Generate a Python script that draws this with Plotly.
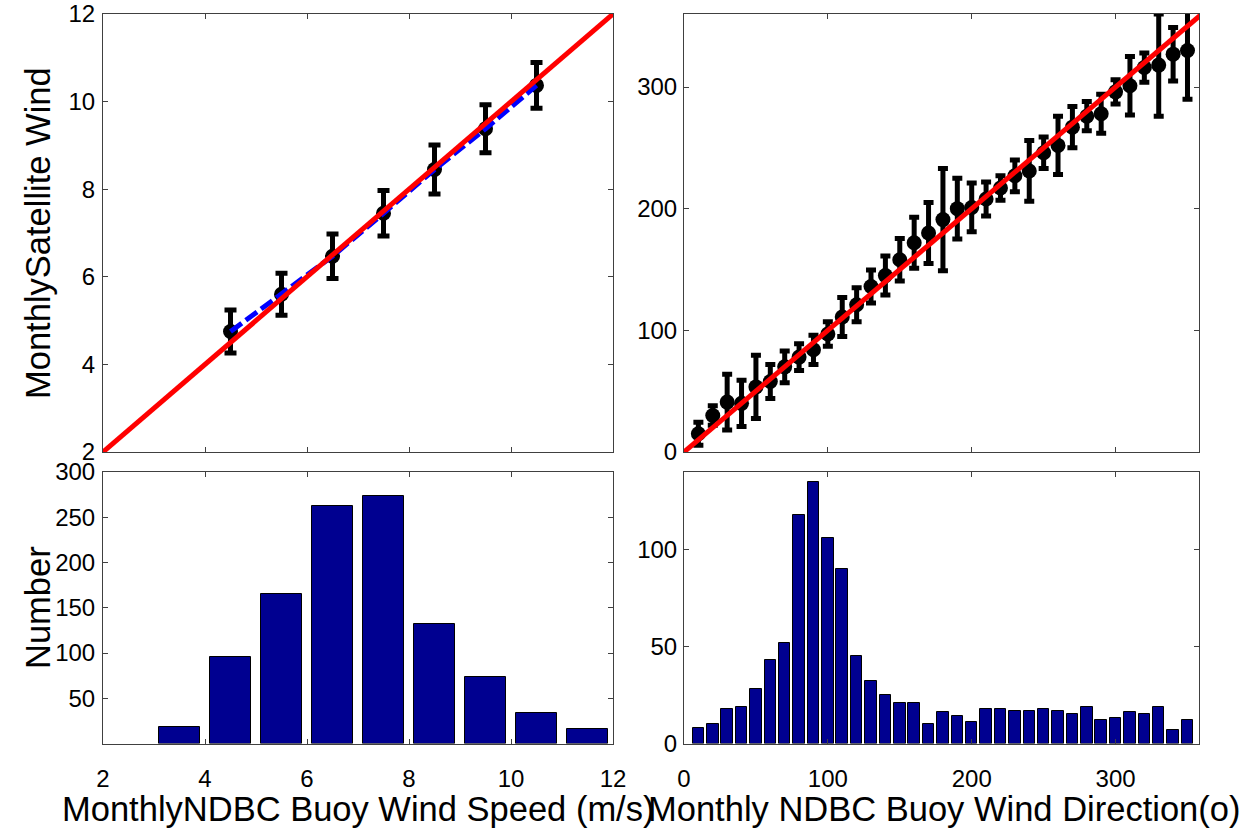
import plotly.graph_objects as go

# ---------------- data ----------------
speed_bins = [4.5, 5.5, 6.5, 7.5, 8.5, 9.5, 10.5]
speed_sat = [4.75, 5.6, 6.47, 7.45, 8.45, 9.38, 10.37]
speed_err = [0.49, 0.48, 0.51, 0.52, 0.56, 0.55, 0.52]
speed_ref = [2, 12]

dir_bins = [10, 20, 30, 40, 50, 60, 70, 80, 90, 100, 110, 120, 130, 140, 150, 160, 170, 180,
            190, 200, 210, 220, 230, 240, 250, 260, 270, 280, 290, 300, 310, 320, 330, 340, 350]
dir_sat = [15, 30, 41, 40, 53.5, 58, 70, 78, 84, 97, 111, 121, 136, 145, 158, 172, 180, 191,
           200, 201, 208, 217, 227, 231, 246, 252, 267, 276, 278, 296, 301, 316, 318, 327, 330]
dir_err = [9.5, 8, 23, 19, 26, 14, 13, 11, 12, 10, 16, 14, 13.5, 16, 17.5, 21, 25, 42,
           25, 20, 14, 10, 13, 25, 13, 24, 17, 12, 16, 10, 24, 12, 42, 22, 40]
dir_ref = [0, 360]

speed_hist_centers = [3.5, 4.5, 5.5, 6.5, 7.5, 8.5, 9.5, 10.5, 11.5]
speed_hist_counts = [18, 96, 165, 262, 273, 132, 74, 34, 16]

dir_hist_centers = dir_bins
dir_hist_counts = [8, 10, 18, 19, 28, 43, 52, 118, 135, 106, 90, 45, 32, 25, 21, 21, 10, 16,
                   14, 11, 18, 18, 17, 17, 18, 17, 15, 19, 12, 13, 16, 15, 19, 7, 12]

speed_ticks = [2, 4, 6, 8, 10, 12]
dir_ticks = [0, 100, 200, 300]
speed_count_ticks = [50, 100, 150, 200, 250, 300]
dir_count_ticks = [0, 50, 100]

# ---------------- figure ----------------
W, H = 1258, 831
BAR = "#000090"

fig = go.Figure()

# top-left
fig.add_trace(go.Scatter(x=speed_bins, y=speed_sat, mode="markers",
                         marker=dict(color="black", size=15),
                         error_y=dict(type="data", array=speed_err, color="black",
                                      thickness=5, width=6),
                         xaxis="x", yaxis="y"))
fig.add_trace(go.Scatter(x=speed_bins, y=speed_sat, mode="lines",
                         line=dict(color="#0000FF", width=5, dash="14px,5px"),
                         xaxis="x", yaxis="y"))
fig.add_trace(go.Scatter(x=speed_ref, y=speed_ref, mode="lines",
                         line=dict(color="#FF0000", width=5),
                         xaxis="x", yaxis="y"))

# top-right
fig.add_trace(go.Scatter(x=dir_bins, y=dir_sat, mode="markers",
                         marker=dict(color="black", size=15),
                         error_y=dict(type="data", array=dir_err, color="black",
                                      thickness=5, width=5),
                         xaxis="x2", yaxis="y2"))
fig.add_trace(go.Scatter(x=dir_ref, y=dir_ref, mode="lines",
                         line=dict(color="#FF0000", width=5),
                         xaxis="x2", yaxis="y2"))

# bottom-left
fig.add_trace(go.Bar(x=speed_hist_centers, y=speed_hist_counts, width=0.8,
                     marker=dict(color=BAR, line=dict(color="black", width=1)),
                     xaxis="x3", yaxis="y3"))
# bottom-right
fig.add_trace(go.Bar(x=dir_hist_centers, y=dir_hist_counts, width=8,
                     marker=dict(color=BAR, line=dict(color="black", width=1)),
                     xaxis="x4", yaxis="y4"))


def px_x(a, b):
    return [a / W, b / W]


def px_y(top, bottom):
    return [1 - bottom / H, 1 - top / H]


dx1 = px_x(103, 613)
dx2 = px_x(684, 1199)
dyt = px_y(14, 452)
dyb = px_y(472, 743.5)

ax = dict(showline=True, linecolor="#404040", linewidth=1, mirror="ticks",
          ticks="inside", ticklen=5, tickcolor="#404040", showgrid=False,
          zeroline=False, automargin=False, tickfont=dict(size=24, color="black"))

fig.update_layout(
    template="none",
    width=W, height=H,
    margin=dict(l=0, r=0, t=0, b=0, autoexpand=False),
    plot_bgcolor="white", paper_bgcolor="white",
    showlegend=False,
    bargap=0,
    font=dict(family="Liberation Sans, Arial, sans-serif", size=24, color="black"),
    xaxis=dict(domain=dx1, range=[2, 12], tickvals=speed_ticks, showticklabels=False,
               anchor="y", **ax),
    yaxis=dict(domain=dyt, range=[2, 12], tickvals=speed_ticks, anchor="x",
               ticklabelstandoff=2, **ax),
    xaxis2=dict(domain=dx2, range=[0, 358], tickvals=dir_ticks, showticklabels=False,
                anchor="y2", **ax),
    yaxis2=dict(domain=dyt, range=[0, 360], tickvals=dir_ticks, anchor="x2",
                ticklabelstandoff=1, **ax),
    xaxis3=dict(domain=dx1, range=[2, 12], tickvals=speed_ticks, anchor="y3",
                ticklabelstandoff=14, **ax),
    yaxis3=dict(domain=dyb, range=[0, 300], tickvals=speed_count_ticks, anchor="x3",
                ticklabelstandoff=2, **ax),
    xaxis4=dict(domain=dx2, range=[0, 358], tickvals=dir_ticks, anchor="y4",
                ticklabelstandoff=14, **ax),
    yaxis4=dict(domain=dyb, range=[0, 140], tickvals=dir_count_ticks, anchor="x4",
                ticklabelstandoff=1, **ax),
)

TF = dict(family="Liberation Sans, Arial, sans-serif", size=34.5, color="black")
fig.add_annotation(text="MonthlySatellite Wind", x=38 / W, y=1 - 233 / H, xref="paper",
                   yref="paper", textangle=-90, showarrow=False, font=TF,
                   xanchor="center", yanchor="middle")
fig.add_annotation(text="Number", x=38 / W, y=1 - 608 / H, xref="paper",
                   yref="paper", textangle=-90, showarrow=False, font=TF,
                   xanchor="center", yanchor="middle")
fig.add_annotation(text="MonthlyNDBC Buoy Wind Speed (m/s)", x=358 / W, y=1 - 809 / H,
                   xref="paper", yref="paper", showarrow=False, font=TF,
                   xanchor="center", yanchor="middle")
fig.add_annotation(text="Monthly NDBC Buoy Wind Direction(o)", x=944 / W, y=1 - 809 / H,
                   xref="paper", yref="paper", showarrow=False, font=TF,
                   xanchor="center", yanchor="middle")

fig.write_html("out.html",
               config={"displayModeBar": False},
               post_script="document.body.style.margin='0';document.body.style.overflow='hidden';")
